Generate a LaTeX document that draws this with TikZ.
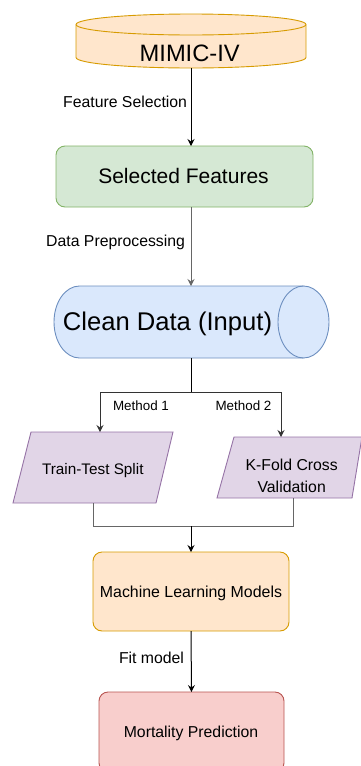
\documentclass[tikz,border=0pt]{standalone}
\usepackage{fontspec}
\setmainfont{Liberation Sans}
\usetikzlibrary{arrows.meta}
\definecolor{orF}{HTML}{FFE6CC}\definecolor{orD}{HTML}{D79B00}
\definecolor{grF}{HTML}{D5E8D4}\definecolor{grD}{HTML}{82B366}
\definecolor{blF}{HTML}{DAE8FC}\definecolor{blD}{HTML}{6C8EBF}
\definecolor{puF}{HTML}{E1D5E7}\definecolor{puD}{HTML}{9673A6}
\definecolor{reF}{HTML}{F8CECC}\definecolor{reD}{HTML}{B85450}
\definecolor{lnG}{HTML}{666666}
\begin{document}
\begin{tikzpicture}[x=1pt,y=1pt,
  line/.style={line width=1pt, draw=black},
  glines/.style={line width=1pt, draw=lnG},
  arr/.style={-{Stealth[length=7pt,width=7pt,inset=2.5pt]}},
  shapeline/.style={line width=0.9pt},
  anchorbox/.style={inner sep=0pt, outer sep=0pt},
  fsz/.style={font=\fontsize{#1}{#1}\selectfont, inner sep=0pt, outer sep=0pt},
  boxnode/.style={rectangle, rounded corners=9pt, shapeline, inner sep=0pt, outer sep=0pt}]
\useasboundingbox (0,0) rectangle (361,-766);

% MIMIC-IV cylinder
\filldraw[fill=orF, draw=orD, shapeline] (76,-24.5) -- (76,-57.5)
  arc[start angle=180, end angle=360, x radius=115pt, y radius=10.5pt] -- (306,-24.5)
  arc[start angle=0, end angle=180, x radius=115pt, y radius=10.5pt] -- cycle;
\draw[draw=orD, shapeline] (76,-24.5) arc[start angle=180, end angle=360, x radius=115pt, y radius=10.5pt];
\node[anchorbox, minimum width=230pt, minimum height=54pt] (mimic) at (191,-41) {};
\node[fsz=23.7, anchor=base] (mimicT) at (189.7,-61.7) {MIMIC-IV};

% Selected Features
\node[boxnode, fill=grF, draw=grD, minimum width=257pt, minimum height=61pt] (sel) at (184.5,-176.5) {};
\node[fsz=21, anchor=base] (selT) at (183.5,-183.3) {Selected Features};

% Clean Data cylinder (horizontal)
\filldraw[fill=blF, draw=blD, shapeline] (79.5,-286) -- (303.5,-286)
  arc[start angle=90, end angle=-90, x radius=25.5pt, y radius=36pt] -- (79.5,-358)
  arc[start angle=270, end angle=90, x radius=25.5pt, y radius=36pt] -- cycle;
\draw[draw=blD, shapeline] (303.5,-286) arc[start angle=90, end angle=270, x radius=25.5pt, y radius=36pt];
\node[anchorbox, minimum width=275pt, minimum height=72pt] (clean) at (191,-322) {};
\node[fsz=25.6, anchor=base] (cleanT) at (167.5,-330) {Clean Data (Input)};

% Train-Test Split parallelogram
\filldraw[fill=puF, draw=puD, shapeline] (31,-432) -- (173,-432) -- (156,-503) -- (13,-503) -- cycle;
\node[fsz=15.3, anchor=base] (ttsT) at (92.8,-474) {Train-Test Split};

% K-Fold parallelogram
\filldraw[fill=puF, draw=puD, shapeline] (234,-437) -- (362,-437) -- (352,-498) -- (217,-498) -- cycle;
\node[fsz=15.8, anchor=base] (kfT1) at (291.7,-470) {K-Fold Cross};
\node[fsz=15.8, anchor=base] (kfT2) at (291.7,-492.7) {Validation};

% Machine Learning Models
\node[boxnode, fill=orF, draw=orD, minimum width=196pt, minimum height=79pt] (ml) at (191,-591.5) {};
\node[fsz=15.9, anchor=base] (mlT) at (191,-597.7) {Machine Learning Models};

% Mortality Prediction
\node[boxnode, fill=reF, draw=reD, minimum width=185pt, minimum height=80pt] (mort) at (191.5,-732) {};
\node[fsz=15.8, anchor=base] (mortT) at (191,-737.3) {Mortality Prediction};

% connectors
\coordinate (sp) at (191,-392);
\coordinate (ttsTop) at (100,-432);
\coordinate (kfTop) at (281,-437);
\coordinate (ttsBot) at (93,-503);
\coordinate (kfBot) at (293,-498);
\coordinate (mg) at (191,-526);

\draw[line, arr] (mimic.south) -- (mimic.south |- sel.north);
\draw[glines, arr] (mimic.south |- sel.south) -- (clean.north);
\draw[line] (clean.south) -- (sp);
\draw[line, draw=black!80, arr] (sp) -| (ttsTop);
\draw[line, draw=black!80, arr] (sp) -| (kfTop);
\draw[glines] (ttsBot) |- (mg);
\draw[glines] (kfBot) |- (mg);
\draw[line, arr] (mg) -- (ml.north);
\draw[line, arr] (ml.south) -- (mort.north);

% edge labels
\node[fsz=15.8, anchor=base east] (lab1) at (187,-107.3) {Feature Selection};
\node[fsz=15.8, anchor=base east] (lab2) at (185,-246.7) {Data Preprocessing};
\node[fsz=13.4, anchor=base] (lab3) at (141,-410) {Method 1};
\node[fsz=13.4, anchor=base] (lab4) at (243.5,-410) {Method 2};
\node[fsz=15.8, anchor=base east] (lab5) at (184,-663.7) {Fit model};
\end{tikzpicture}
\end{document}
